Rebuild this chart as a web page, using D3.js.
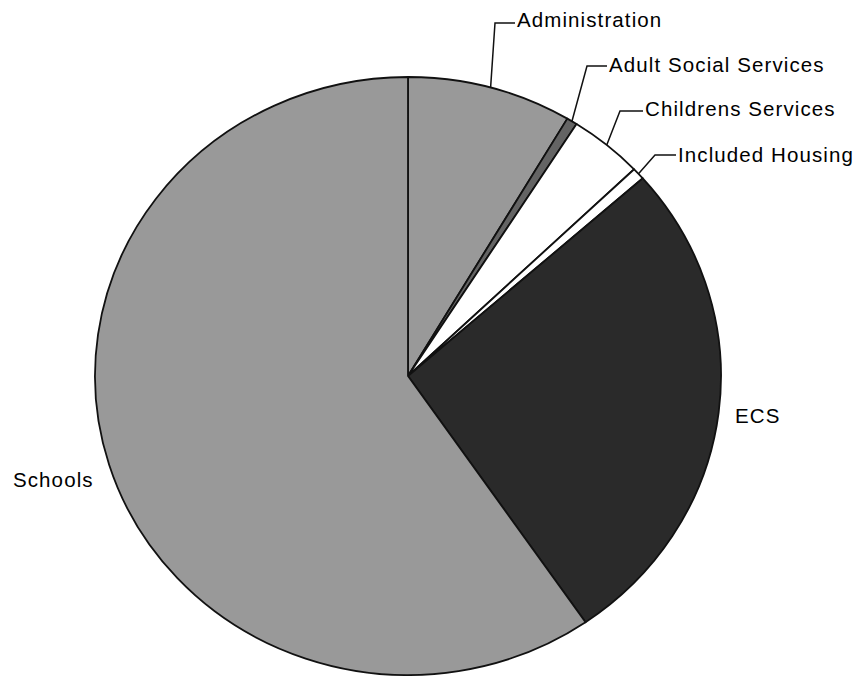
<!DOCTYPE html>
<html>
<head>
<meta charset="utf-8">
<script src="https://cdn.jsdelivr.net/npm/d3@7"></script>
<style>
  body { margin: 0; background: #fff; }
  svg text { font-family: "Liberation Sans", Arial, sans-serif; font-size: 20.5px; letter-spacing: 1.1px; fill: #000; }
</style>
</head>
<body>
<div id="chart"></div>
<script>
// chart data (share of spend)
var categories = ["Administration", "Adult Social Services", "Childrens Services", "Included Housing", "ECS", "Schools"];
var values = [8.5, 0.55, 3.8, 0.65, 26.9, 59.6];
var sliceColors = ["#999999", "#646464", "#ffffff", "#ffffff", "#2a2a2a", "#999999"];

// svg size
var svgWidth = 868;
var svgHeight = 676;

// pie is a little wider than it is tall in the scan
var cx = 408, cy = 376;
var rx = 313, ry = 299;

// label layout: elbow point of the leader, text start, baseline
var labelLayout = [
  { elbow: [495, 23], text: [517, 27] },
  { elbow: [587, 66], text: [609, 72] },
  { elbow: [620, 111], text: [645, 116] },
  { elbow: [655, 155], text: [678, 162] },
  { elbow: null, text: [735, 423] },
  { elbow: null, text: [13, 487] }
];

var data = categories.map(function(c, i) {
  return { name: c, value: values[i], color: sliceColors[i], layout: labelLayout[i] };
});

var svg = d3.select("#chart")
  .append("svg")
  .attr("width", svgWidth)
  .attr("height", svgHeight);

var pie = d3.pie()
  .sort(null)
  .value(d => d.value);

var arc = d3.arc()
  .innerRadius(0)
  .outerRadius(ry);

var arcs = pie(data);

var pieGroup = svg.append("g")
  .attr("transform", `translate(${cx}, ${cy}) scale(${rx / ry}, 1)`);

pieGroup.selectAll("path")
  .data(arcs)
  .enter()
  .append("path")
  .attr("d", arc)
  .attr("fill", d => d.data.color)
  .attr("stroke", "#111")
  .attr("stroke-width", 1.8)
  .attr("stroke-linejoin", "round")
  .attr("vector-effect", "non-scaling-stroke");

// point on the ellipse edge at the middle of a slice
function edgePoint(d) {
  var a = (d.startAngle + d.endAngle) / 2;
  return [cx + rx * Math.sin(a), cy - ry * Math.cos(a)];
}

var labelGroup = svg.append("g");

// leader lines
labelGroup.selectAll("polyline")
  .data(arcs.filter(d => d.data.layout.elbow))
  .enter()
  .append("polyline")
  .attr("points", function(d) {
    var p = edgePoint(d);
    var e = d.data.layout.elbow;
    var t = d.data.layout.text;
    return [p, e, [t[0] - 2, e[1]]].map(q => q.join(",")).join(" ");
  })
  .attr("fill", "none")
  .attr("stroke", "#111")
  .attr("stroke-width", 1.5);

// labels
labelGroup.selectAll("text")
  .data(arcs)
  .enter()
  .append("text")
  .attr("x", d => d.data.layout.text[0])
  .attr("y", d => d.data.layout.text[1])
  .text(d => d.data.name);
</script>
</body>
</html>
